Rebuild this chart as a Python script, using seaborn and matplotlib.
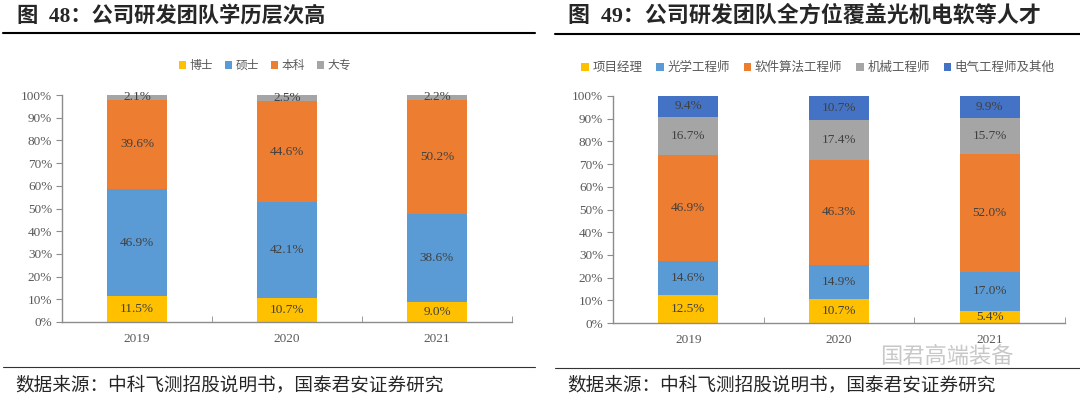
import numpy as np
import pandas as pd
import matplotlib
matplotlib.use('Agg')
import matplotlib.pyplot as plt
import seaborn as sns
from matplotlib.lines import Line2D
from matplotlib.ticker import FuncFormatter, FixedLocator

# 数据
years = ['2019', '2020', '2021']

edu_names = ['博士', '硕士', '本科', '大专']
edu_doctor = [11.5, 10.7, 9.0]
edu_master = [46.9, 42.1, 38.6]
edu_bachelor = [39.6, 44.6, 50.2]
edu_college = [2.1, 2.5, 2.2]
edu_colors = ['#FFC000', '#5B9BD5', '#ED7D31', '#A5A5A5']

role_names = ['项目经理', '光学工程师', '软件算法工程师', '机械工程师', '电气工程师及其他']
role_pm = [12.5, 10.7, 5.4]
role_optical = [14.6, 14.9, 17.0]
role_software = [46.9, 46.3, 52.0]
role_mech = [16.7, 17.4, 15.7]
role_elec = [9.4, 10.7, 9.9]
role_colors = ['#FFC000', '#5B9BD5', '#ED7D31', '#A5A5A5', '#4472C4']

title_l = '图  48：公司研发团队学历层次高'
title_r = '图  49：公司研发团队全方位覆盖光机电软等人才'
source = '数据来源：中科飞测招股说明书，国泰君安证券研究'

sns.set_style('white')
plt.rcParams['font.family'] = ['Liberation Serif', 'Noto Sans CJK SC', 'DejaVu Sans']

axis_gray = '#8C8C8C'
text_gray = '#595959'


def stacked(ax, names, series, colors):
    vals = np.array(series)
    tops = np.cumsum(vals, axis=0)
    # 从最上层往下画，后画的覆盖前面的
    for i in range(len(names) - 1, -1, -1):
        df = pd.DataFrame({'year': years, 'v': tops[i]})
        sns.barplot(data=df, x='year', y='v', order=years, color=colors[i],
                    width=0.4, saturation=1, linewidth=0, label=names[i], ax=ax)
    for i in range(len(names)):
        for j in range(len(years)):
            ax.text(j, tops[i, j] - vals[i, j] / 2, f'{vals[i, j]:.1f}%',
                    ha='center', va='center', fontsize=9.5, color='#404040')
    ax.set_xlim(-0.5, 2.5)
    ax.set_ylim(0, 100)
    ax.set_yticks(np.arange(0, 101, 10))
    ax.yaxis.set_major_formatter(FuncFormatter(lambda v, p: f'{v:.0f}%'))
    ax.xaxis.set_minor_locator(FixedLocator([0.5, 1.5, 2.5]))
    ax.set_xlabel('')
    ax.set_ylabel('')
    for s in ['top', 'right']:
        ax.spines[s].set_visible(False)
    for s in ['left', 'bottom']:
        ax.spines[s].set_color(axis_gray)
        ax.spines[s].set_linewidth(1.0)
    ax.tick_params(axis='y', direction='out', length=4, color=axis_gray,
                   labelcolor=text_gray, labelsize=9.5, left=True, pad=3)
    ax.tick_params(axis='x', which='major', length=0, labelcolor=text_gray,
                   labelsize=9.5, pad=8)
    ax.tick_params(axis='x', which='minor', direction='in', length=4,
                   color=axis_gray, bottom=True)
    h, l = ax.get_legend_handles_labels()
    if ax.get_legend() is not None:
        ax.get_legend().remove()
    return h[::-1], l[::-1]


fig = plt.figure(figsize=(10.8, 3.99), dpi=100)
W, H = 1080, 399

ax1 = fig.add_axes([62 / W, 1 - 322 / H, 450 / W, 227 / H])
h1, l1 = stacked(ax1, edu_names, [edu_doctor, edu_master, edu_bachelor, edu_college], edu_colors)
fig.legend(h1, l1, loc='center', bbox_to_anchor=(265 / W, 1 - 66 / H), ncol=4,
           frameon=False, fontsize=8.5, handlelength=0.6, handleheight=0.6,
           handletextpad=0.3, columnspacing=1.0, labelcolor=text_gray)

ax2 = fig.add_axes([613 / W, 1 - 323 / H, 452 / W, 227 / H])
h2, l2 = stacked(ax2, role_names, [role_pm, role_optical, role_software, role_mech, role_elec], role_colors)
fig.legend(h2, l2, loc='center', bbox_to_anchor=(818 / W, 1 - 68 / H), ncol=5,
           frameon=False, fontsize=9, handlelength=0.6, handleheight=0.6,
           handletextpad=0.3, columnspacing=1.1, labelcolor=text_gray)

# 标题和分隔线
fig.text(17 / W, 1 - 16 / H, title_l, fontsize=15.3, fontweight='bold', va='center', ha='left')
fig.text(568 / W, 1 - 16 / H, title_r, fontsize=15.8, fontweight='bold', va='center', ha='left')
fig.add_artist(Line2D([3 / W, 535 / W], [1 - 33 / H] * 2, color='black', lw=1.5))
fig.add_artist(Line2D([555 / W, 1080 / W], [1 - 34 / H] * 2, color='black', lw=1.5))
fig.add_artist(Line2D([3 / W, 535 / W], [1 - 367 / H] * 2, color='#333333', lw=0.8))
fig.add_artist(Line2D([555 / W, 1080 / W], [1 - 368 / H] * 2, color='#333333', lw=0.8))
fig.text(15 / W, 1 - 385 / H, source, fontsize=13.4, va='center', ha='left')
fig.text(567 / W, 1 - 385 / H, source, fontsize=13.4, va='center', ha='left')

# 水印
fig.text(880 / W, 1 - 357 / H, '国君高端装备', fontsize=16, color='#C8C8C8',
         va='center', ha='left')

fig.savefig('out.png', dpi=100)
